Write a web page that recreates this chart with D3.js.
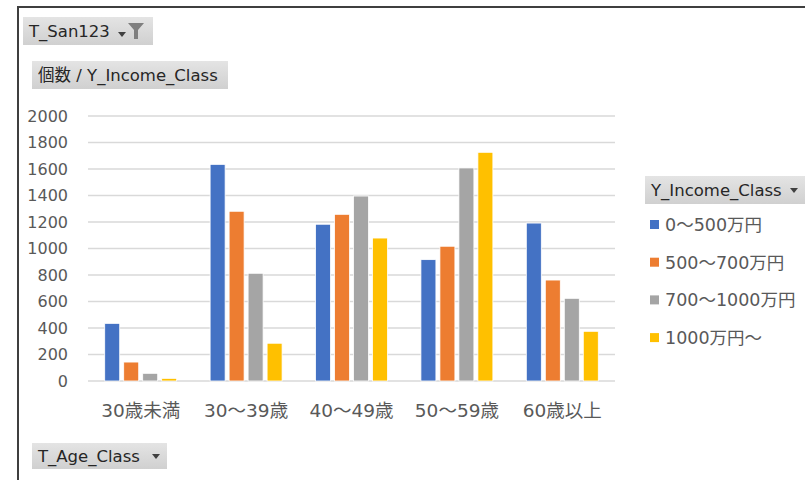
<!DOCTYPE html>
<html>
<head>
<meta charset="utf-8">
<script src="https://cdn.jsdelivr.net/npm/d3@7"></script>
<style>
  body { margin: 0; background: #fff; }
  text { font-family: "DejaVu Sans", "Noto Sans CJK JP", sans-serif; }
</style>
</head>
<body>
<svg id="chart" width="805" height="480"></svg>
<script>
// data
const ageClasses = ["30歳未満", "30〜39歳", "40〜49歳", "50〜59歳", "60歳以上"];
const incomeClasses = ["0〜500万円", "500〜700万円", "700〜1000万円", "1000万円〜"];
const income0to500 = [435, 1635, 1183, 916, 1192];
const income500to700 = [143, 1281, 1258, 1017, 762];
const income700to1000 = [58, 813, 1396, 1608, 624];
const income1000plus = [20, 285, 1079, 1726, 375];
const yTicks = [0, 200, 400, 600, 800, 1000, 1200, 1400, 1600, 1800, 2000];
const colors = ["#4472C4", "#ED7D31", "#A5A5A5", "#FFC000"];

const series = [income0to500, income500to700, income700to1000, income1000plus];

const svg = d3.select("#chart");

// gradient for the field buttons
const grad = svg.append("defs").append("linearGradient")
  .attr("id", "btn").attr("x1", 0).attr("y1", 0).attr("x2", 0).attr("y2", 1);
grad.append("stop").attr("offset", "0%").attr("stop-color", "#e4e4e4");
grad.append("stop").attr("offset", "100%").attr("stop-color", "#d0d0d0");

// outer frame
svg.append("rect")
  .attr("x", 18).attr("y", 7).attr("width", 820).attr("height", 500)
  .attr("fill", "none").attr("stroke", "#3f3f3f").attr("stroke-width", 2);

const plot = { left: 88, right: 615, top: 116, bottom: 381 };

const x0 = d3.scaleBand()
  .domain(ageClasses)
  .range([plot.left, plot.right])
  .padding(0);

const x1 = d3.scaleBand()
  .domain(d3.range(incomeClasses.length))
  .range([0, x0.bandwidth()])
  .paddingInner(0.21)
  .paddingOuter(0.88);

const y = d3.scaleLinear()
  .domain([0, 2000])
  .range([plot.bottom, plot.top]);

// gridlines
svg.append("g")
  .selectAll("line")
  .data(yTicks)
  .join("line")
  .attr("x1", plot.left).attr("x2", plot.right)
  .attr("y1", d => y(d)).attr("y2", d => y(d))
  .attr("stroke", "#d9d9d9").attr("stroke-width", 1.3);

// y axis labels
const yAxis = d3.axisLeft(y).tickValues(yTicks).tickFormat(d3.format("d"))
  .tickSize(0).tickPadding(20);
const yg = svg.append("g")
  .attr("transform", `translate(${plot.left},0)`)
  .call(yAxis);
yg.select(".domain").remove();
yg.selectAll("text")
  .attr("fill", "#595959")
  .style("font-family", "'DejaVu Sans', sans-serif")
  .style("font-size", "16px");

// bars
const groups = svg.append("g")
  .selectAll("g")
  .data(ageClasses)
  .join("g")
  .attr("transform", d => `translate(${x0(d)},0)`);

groups.selectAll("rect")
  .data((d, i) => series.map((s, k) => ({ k: k, v: s[i] })))
  .join("rect")
  .attr("x", d => x1(d.k))
  .attr("width", x1.bandwidth())
  .attr("y", d => y(d.v))
  .attr("height", d => y(0) - y(d.v))
  .attr("fill", d => colors[d.k])
  .attr("stroke", "#ffffff")
  .attr("stroke-width", 0.8);

// x axis labels
const xAxis = d3.axisBottom(x0).tickSize(0).tickPadding(23);
const xg = svg.append("g")
  .attr("transform", `translate(0,${plot.bottom})`)
  .call(xAxis);
xg.select(".domain").remove();
xg.selectAll("text")
  .attr("fill", "#595959")
  .style("font-family", "'DejaVu Sans', 'Noto Sans CJK JP', sans-serif")
  .style("font-size", "18.5px");

// field buttons
function fieldButton(x, yy, w, h, label, extra) {
  const g = svg.append("g").attr("transform", `translate(${x},${yy})`);
  g.append("rect")
    .attr("width", w).attr("height", h)
    .attr("fill", "url(#btn)");
  g.append("text")
    .attr("x", 6).attr("y", h / 2 + 6)
    .attr("fill", "#262626")
    .style("font-size", "16.5px")
    .text(label);
  if (extra === "arrow" || extra === "filter") {
    const ax = extra === "arrow" ? w - 15 : w - 35;
    const ay = extra === "arrow" ? h / 2 - 2 : h / 2 + 1;
    g.append("path")
      .attr("d", `M${ax},${ay} l8,0 l-4,5 z`)
      .attr("fill", "#404040");
  }
  if (extra === "filter") {
    g.append("path")
      .attr("d", `M${w - 25},${h / 2 - 8} l16,0 l-6,7 l0,9 l-4,0 l0,-9 z`)
      .attr("fill", "#7f7f7f");
  }
}

fieldButton(23, 17, 130, 28, "T_San123", "filter");
fieldButton(32, 61, 196, 28, "個数 / Y_Income_Class", null);
fieldButton(32, 443, 135, 26, "T_Age_Class", "arrow");
fieldButton(645, 176, 160, 28, "Y_Income_Class", "arrow");

// legend
const legend = svg.append("g")
  .selectAll("g")
  .data(incomeClasses)
  .join("g")
  .attr("transform", (d, i) => `translate(650,${225 + i * 37.7})`);

legend.append("rect")
  .attr("x", 0).attr("y", -5)
  .attr("width", 9).attr("height", 9)
  .attr("fill", (d, i) => colors[i]);

legend.append("text")
  .attr("x", 15).attr("y", 6)
  .attr("fill", "#595959")
  .style("font-size", "17.5px")
  .text(d => d);
</script>
</body>
</html>
